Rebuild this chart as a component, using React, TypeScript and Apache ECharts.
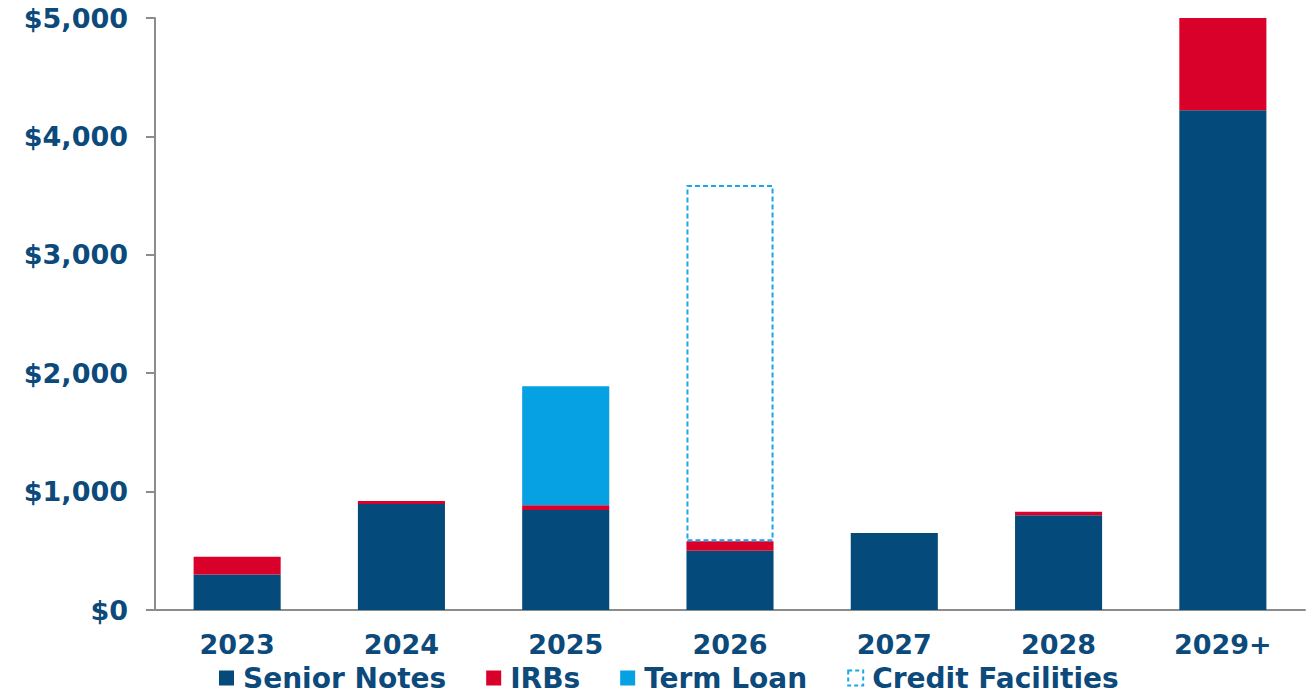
import React, { useEffect, useRef } from "react";
import * as echarts from "echarts";

const categories = ["2023", "2024", "2025", "2026", "2027", "2028", "2029+"];
const seniorNotes = [300, 895, 845, 500, 650, 800, 4220];
const irbs = [150, 25, 40, 80, "-", 30, 780];
const termLoan = ["-", "-", 1005, "-", "-", "-", "-"];
const creditFacilities = ["-", "-", "-", 3010, "-", "-", "-"];
const yTicks = { min: 0, max: 5000, interval: 1000 };

const NAVY = "#044b7b";
const RED = "#d90029";
const LIGHT = "#05a1e3";
const TEXT = "#0b4a7b";
const FONT = "DejaVu Sans";

export default function App() {
  const ref = useRef<HTMLDivElement>(null);
  useEffect(() => {
    if (!ref.current) return;
    const chart = echarts.init(ref.current, undefined, { renderer: "svg" });
    const fmt = (v: number) => "$" + v.toLocaleString("en-US");
    chart.setOption({
      animation: false,
      grid: { left: 155, right: 9, top: 18, bottom: 84, containLabel: false },
      legend: {
        left: 219,
        top: 664,
        padding: 0,
        itemWidth: 15,
        itemHeight: 15,
        itemGap: 40,
        textStyle: { color: TEXT, fontSize: 28, fontWeight: "bold", fontFamily: FONT, padding: [0, 0, 0, 4], lineHeight: 28 },
        data: [
          { name: "Senior Notes", icon: "rect" },
          { name: "IRBs", icon: "rect" },
          { name: "Term Loan", icon: "rect" },
          {
            name: "Credit Facilities",
            icon: "rect",
            itemStyle: { color: "transparent", borderColor: "#1aa6e8", borderWidth: 2, borderType: [4, 3] },
          },
        ],
      },
      xAxis: {
        type: "category",
        data: categories,
        axisLine: { show: true, lineStyle: { color: "#8c8c8c", width: 2 } },
        axisTick: { show: false },
        axisLabel: { color: TEXT, fontSize: 27, fontWeight: "bold", fontFamily: FONT, margin: 21 },
      },
      yAxis: {
        type: "value",
        min: yTicks.min,
        max: yTicks.max,
        interval: yTicks.interval,
        splitLine: { show: false },
        axisLine: { show: true, lineStyle: { color: "#8c8c8c", width: 2 } },
        axisTick: { show: true, length: 9, lineStyle: { color: "#8c8c8c", width: 2 } },
        axisLabel: { color: TEXT, fontSize: 27, fontWeight: "bold", fontFamily: FONT, margin: 27, formatter: fmt },
      },
      series: [
        { name: "Senior Notes", type: "bar", stack: "a", barWidth: "53%", data: seniorNotes, itemStyle: { color: NAVY } },
        { name: "IRBs", type: "bar", stack: "a", barWidth: "53%", data: irbs, itemStyle: { color: RED } },
        { name: "Term Loan", type: "bar", stack: "a", barWidth: "53%", data: termLoan, itemStyle: { color: LIGHT } },
        {
          name: "Credit Facilities",
          type: "bar",
          stack: "a",
          barWidth: "53%",
          data: creditFacilities,
          itemStyle: { color: "transparent", borderColor: "#1aa6e8", borderWidth: 2, borderType: [5, 3] },
        },
      ],
    });
    return () => chart.dispose();
  }, []);
  return <div ref={ref} style={{ width: 1314, height: 694, position: "absolute", left: 0, top: 0 }} />;
}
